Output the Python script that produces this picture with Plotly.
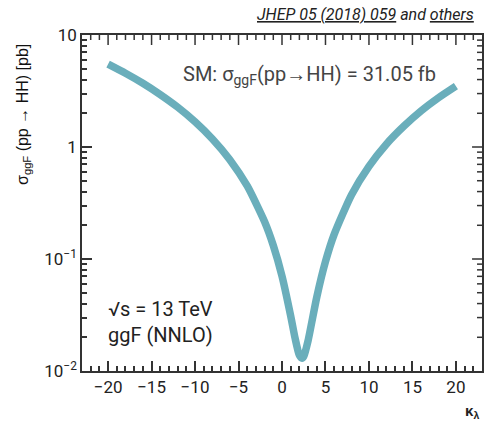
import math
import plotly.graph_objects as go

# kappa_lambda values and read cross sections (pb)
kl = [-20, -18, -16, -14, -12, -10, -8, -6, -4, -2, -1, 0, 1, 1.5, 2, 2.3, 2.5, 3, 4, 5, 6, 8, 10, 12, 14, 16, 18, 20]
xs = [5.50, 4.56, 3.71, 2.94, 2.27, 1.68, 1.18, 0.771, 0.449, 0.215, 0.132, 0.0704, 0.0310, 0.0197, 0.0138,
      0.0130, 0.0135, 0.0187, 0.0457, 0.0948, 0.166, 0.375, 0.672, 1.06, 1.53, 2.10, 2.75, 3.49]

x_ticks = [-20, -15, -10, -5, 0, 5, 10, 15, 20]
x_ticktext = ["\u221220", "\u221215", "\u221210", "\u22125", "0", "5", "10", "15", "20"]
y_ticks = [10, 1, 0.1, 0.01]
y_ticktext = ["10", "1", "10<sup>\u22121</sup>", "10<sup>\u22122</sup>"]
x_range = [-23, 23]
y_range = [-2, 1]

W, H = 491, 427
ML, MR, MT, MB = 82, 7, 35, 56
PW, PH = W - ML - MR, H - MT - MB

fig = go.Figure()
fig.add_trace(go.Scatter(x=kl, y=xs, mode="lines", line=dict(color="#6aaebb", width=7.5, shape="spline", smoothing=0.6),
                         hoverinfo="skip"))

tc = "#333"
clear = "rgba(0,0,0,0)"
tickfont = dict(family="Roboto", size=17, color="#222")
minor_x = dict(dtick=1, ticks="inside", ticklen=5, tickcolor=tc, tickwidth=1.5, gridcolor=clear)
minor_y = dict(dtick="D1", ticks="inside", ticklen=5, tickcolor=tc, tickwidth=1.5, gridcolor=clear)

# mirrored tick marks on the top and right edges, built from the axis tick positions
shapes = []
for v in range(x_range[0] + 1, x_range[1]):
    ln = 10 if v in x_ticks else 5
    shapes.append(dict(type="line", xref="x", yref="paper", x0=v, x1=v, y0=1, y1=1 - ln / PH,
                       line=dict(color=tc, width=1.5)))
for d in range(y_range[0], y_range[1]):
    for m in range(1, 10):
        frac = (d + math.log10(m) - y_range[0]) / (y_range[1] - y_range[0])
        if frac <= 0:
            continue
        ln = 10 if m == 1 else 5
        shapes.append(dict(type="line", xref="paper", yref="paper", x0=1, x1=1 - ln / PW, y0=frac, y1=frac,
                           line=dict(color=tc, width=1.5)))

fig.update_layout(
    xaxis=dict(range=x_range, tickvals=x_ticks, ticktext=x_ticktext, ticks="inside", ticklen=10, tickcolor=tc,
               tickwidth=1.5, tickfont=tickfont, showline=True, linecolor=tc, linewidth=1.5, mirror=True,
               gridcolor=clear, zerolinecolor=clear, minor=minor_x),
    yaxis=dict(type="log", range=y_range, tickvals=y_ticks, ticktext=y_ticktext, ticks="inside", ticklen=10,
               tickcolor=tc, tickwidth=1.5, tickfont=tickfont, showline=True, linecolor=tc, linewidth=1.5,
               mirror=True, gridcolor=clear, zerolinecolor=clear, minor=minor_y),
    shapes=shapes,
    width=W, height=H,
    margin=dict(l=ML, r=MR, t=MT, b=MB),
    plot_bgcolor="white", paper_bgcolor="white", showlegend=False,
    font=dict(family="Roboto", color="#222"),
    annotations=[
        dict(xref="paper", yref="paper", x=0.891, y=0.881, xanchor="right", yanchor="middle",
             text="SM: \u03c3<sub>ggF</sub>(pp\u2192HH) = 31.05 fb", showarrow=False,
             font=dict(family="Roboto", size=20, color="#444")),
        dict(xref="paper", yref="paper", x=0.06, y=0.146, xanchor="left", yanchor="middle",
             text="\u221as = 13 TeV<br>ggF (NNLO)", align="left", showarrow=False,
             font=dict(family="Roboto", size=20, color="#222")),
        dict(xref="paper", yref="paper", x=0.985, y=1.06, xanchor="right", yanchor="middle",
             text="<i><u>JHEP 05 (2018) 059</u> and <u>others</u></i>", showarrow=False,
             font=dict(family="Roboto", size=16, color="#222")),
        dict(xref="paper", yref="paper", x=-0.145, y=0.762, xanchor="center", yanchor="middle", textangle=-90,
             text="\u03c3<sub>ggF</sub> (pp \u2192 HH) [pb]", showarrow=False,
             font=dict(family="Liberation Sans", size=16, color="#111")),
        dict(xref="paper", yref="paper", x=0.975, y=-0.12, xanchor="center", yanchor="middle",
             text="<b>\u03ba<sub>\u03bb</sub></b>", showarrow=False,
             font=dict(family="Liberation Sans", size=15, color="#222")),
    ],
)

fig.write_html("out.html")
